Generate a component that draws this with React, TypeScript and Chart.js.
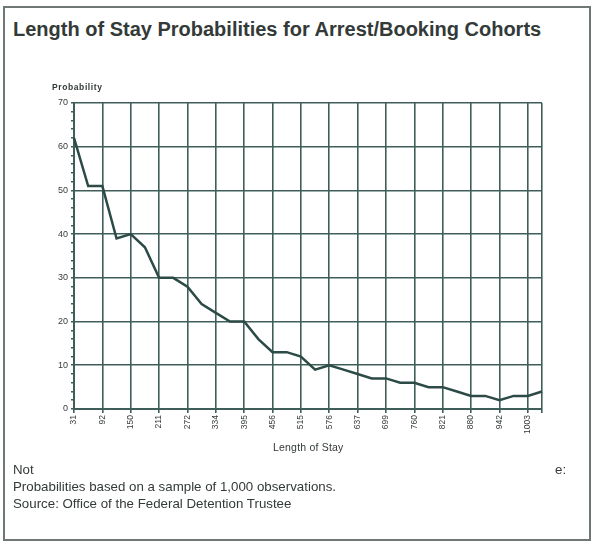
import React, { useEffect, useRef } from "react";
import { Chart, registerables } from "chart.js";

Chart.register(...registerables);

// Length of stay (days), monthly observations
const days = [
  31, 61, 92, 122, 150, 181, 211, 242, 272, 303, 334, 364, 395, 425, 456, 486, 515,
  546, 576, 607, 637, 668, 699, 729, 760, 790, 821, 851, 880, 911, 942, 972, 1003, 1034,
];
// Probability (%)
const probability = [
  62, 51, 51, 39, 40, 37, 30, 30, 28, 24, 22, 20, 20, 16, 13, 13, 12,
  9, 10, 9, 8, 7, 7, 6, 6, 5, 5, 4, 3, 3, 2, 3, 3, 4,
];
const yTicksMajor = [0, 10, 20, 30, 40, 50, 60, 70];

const title = "Length of Stay Probabilities for Arrest/Booking Cohorts";
const yTitle = "Probability";
const xTitle = "Length of Stay";
const notes = [
  "Probabilities based on a sample of 1,000 observations.",
  "Source: Office of the Federal Detention Trustee",
];

const FONT = "'Liberation Sans', Arial, sans-serif";
const GRID = "#3f5e5a";
const TEXT = "#333a38";

export default function App() {
  const ref = useRef<HTMLCanvasElement | null>(null);

  useEffect(() => {
    if (!ref.current) return;
    const last = days.length - 1;
    const chart = new Chart(ref.current, {
      type: "line",
      data: {
        labels: days.map(String),
        datasets: [
          {
            data: probability,
            borderColor: "#2c4a46",
            borderWidth: 2.5,
            pointRadius: 0,
            tension: 0,
            fill: false,
          },
        ],
      },
      options: {
        animation: false,
        responsive: false,
        maintainAspectRatio: false,
        plugins: { legend: { display: false }, tooltip: { enabled: false } },
        layout: { padding: { left: 30, right: 50, top: 103, bottom: 93 } },
        scales: {
          x: {
            type: "category",
            offset: false,
            afterFit: (s: any) => {
              s.height = 40;
            },
            border: { display: true, color: GRID, width: 2 },
            grid: {
              color: (c: any) =>
                c.index % 2 === 0 || c.index === last ? GRID : "rgba(0,0,0,0)",
              lineWidth: 1.6,
              tickLength: 4,
              drawTicks: true,
            },
            ticks: {
              autoSkip: false,
              maxRotation: 90,
              minRotation: 90,
              padding: 2,
              color: TEXT,
              font: { family: FONT, size: 8.5 },
              callback: (_v: any, i: number) => (i % 2 === 0 && i !== last ? days[i] : ""),
            },
          },
          y: {
            min: 0,
            max: 70,
            afterFit: (s: any) => {
              s.width = 44;
            },
            border: { display: true, color: GRID, width: 2 },
            grid: {
              color: (c: any) =>
                yTicksMajor.includes(c.tick.value) ? GRID : "rgba(0,0,0,0)",
              tickColor: GRID,
              lineWidth: 1.6,
              tickLength: 3,
            },
            ticks: {
              stepSize: 2,
              autoSkip: false,
              padding: 3,
              color: TEXT,
              font: { family: FONT, size: 9 },
              callback: (v: any) => (yTicksMajor.includes(v) ? String(v) : ""),
            },
          },
        },
      },
    });
    return () => chart.destroy();
  }, []);

  const abs = (s: React.CSSProperties): React.CSSProperties => ({ position: "absolute", ...s });

  return (
    <div
      style={abs({
        left: 0,
        top: 0,
        width: 592,
        height: 542,
        background: "#fff",
        fontFamily: FONT,
        color: TEXT,
        overflow: "hidden",
      })}
    >
      <div
        style={abs({
          left: 3,
          top: 6,
          width: 584,
          height: 531,
          border: "2px solid #6f7876",
        })}
      />
      <div style={abs({ left: 13, top: 18, fontSize: 20, fontWeight: "bold", whiteSpace: "nowrap" })}>
        {title}
      </div>
      <canvas ref={ref} width={592} height={542} style={abs({ left: 0, top: 0 })} />
      <div
        style={abs({ left: 52, top: 82, fontSize: 8.5, fontWeight: "bold", letterSpacing: 0.6 })}
      >
        {yTitle}
      </div>
      <div style={abs({ left: 273, top: 441, fontSize: 10.5, letterSpacing: 0.2 })}>{xTitle}</div>
      <div
        style={abs({ left: 13, top: 461, fontSize: 13.3, lineHeight: "17px", whiteSpace: "nowrap" })}
      >
        <div>Not</div>
        {notes.map((n) => (
          <div key={n}>{n}</div>
        ))}
      </div>
      <div style={abs({ left: 555, top: 461, fontSize: 13.3, lineHeight: "17px" })}>e:</div>
    </div>
  );
}
